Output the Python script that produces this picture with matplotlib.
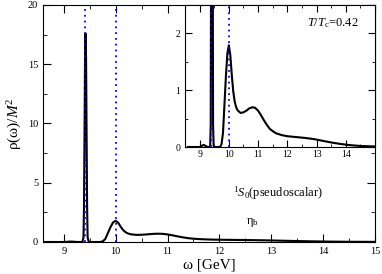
import numpy as np
import matplotlib.pyplot as plt
from matplotlib.ticker import MultipleLocator

plt.rcParams['font.family'] = ['Liberation Serif', 'DejaVu Serif']
plt.rcParams['mathtext.fontset'] = 'custom'
plt.rcParams['mathtext.rm'] = 'Liberation Serif'
plt.rcParams['mathtext.it'] = 'Liberation Serif:italic'

# spectral function (omega in GeV, rho/M^2)
omega = [8.6, 9.0, 9.05, 9.1, 9.15, 9.2, 9.25, 9.3, 9.36, 9.38, 9.39, 9.40, 9.41,
         9.42, 9.43, 9.44, 9.45, 9.46, 9.48, 9.5, 9.6, 9.7, 9.75, 9.8, 9.85, 9.9,
         9.95, 10.0, 10.05, 10.1, 10.15, 10.2, 10.25, 10.3, 10.4, 10.5, 10.6, 10.7,
         10.8, 10.9, 11.0, 11.1, 11.2, 11.3, 11.4, 11.5, 11.6, 11.8, 12.0, 12.3,
         12.6, 12.9, 13.2, 13.5, 13.8, 14.1, 14.5, 15.0]
rho = [0.0, 0.0, 0.01, 0.03, 0.035, 0.02, 0.005, 0.0, 0.0, 0.4, 3.0, 9.0, 15.5,
       17.6, 15.5, 9.0, 3.0, 0.4, 0.02, 0.0, 0.0, 0.0, 0.05, 0.25, 0.75, 1.25,
       1.65, 1.79, 1.62, 1.27, 0.98, 0.8, 0.7, 0.645, 0.6, 0.61, 0.64, 0.68,
       0.7, 0.69, 0.64, 0.56, 0.47, 0.39, 0.32, 0.28, 0.245, 0.21, 0.19, 0.175,
       0.16, 0.14, 0.11, 0.08, 0.055, 0.035, 0.018, 0.01]
# positions of the bound states (dotted lines)
masses = [9.40, 10.0]

fig = plt.figure(figsize=(3.82, 2.74), dpi=100)
ax = fig.add_axes([0.1126, 0.1168, 0.8691, 0.865])
ax.plot(omega, rho, color='black', lw=1.5)
for m in masses:
    ax.axvline(m, color='blue', ls=(0, (1, 2.2)), lw=1.3)
ax.set_xlim(8.6, 15)
ax.set_ylim(0, 20)
ax.xaxis.set_major_locator(MultipleLocator(1))
ax.xaxis.set_minor_locator(MultipleLocator(0.5))
ax.yaxis.set_major_locator(MultipleLocator(5))
ax.yaxis.set_minor_locator(MultipleLocator(2.5))
ax.tick_params(which='both', direction='in', top=True, right=True, labelsize=7.5)
ax.tick_params(which='major', length=6)
ax.tick_params(which='minor', length=3)
ax.set_xlabel(r'ω [GeV]', fontsize=11, labelpad=2)
ax.set_ylabel(r'ρ(ω)/$M^2$', fontsize=11, labelpad=3)

ax.text(0.572, 0.19, r'$^1S_0$(pseudoscalar)', transform=ax.transAxes, fontsize=9)
ax.text(0.612, 0.075, r'η$_\mathrm{b}$', transform=ax.transAxes, fontsize=9)

# inset
ins = fig.add_axes([0.4843, 0.4635, 0.4974, 0.5182])
ins.plot(omega, rho, color='black', lw=1.5)
for m in masses:
    ins.axvline(m, color='blue', ls=(0, (1, 2.2)), lw=1.3)
ins.set_xlim(8.5, 15)
ins.set_ylim(0, 2.5)
ins.xaxis.set_major_locator(MultipleLocator(1))
ins.xaxis.set_minor_locator(MultipleLocator(0.5))
ins.yaxis.set_major_locator(MultipleLocator(1))
ins.yaxis.set_minor_locator(MultipleLocator(0.5))
ins.set_xticks([9, 10, 11, 12, 13, 14])
ins.tick_params(which='both', direction='in', top=True, right=True, labelsize=7)
ins.tick_params(which='major', length=5)
ins.tick_params(which='minor', length=2.5)
ins.tick_params(axis='x', pad=2)
ins.text(0.64, 0.85, r'$T/T_\mathrm{c}$=0.42', transform=ins.transAxes, fontsize=9)

fig.savefig('out.png', dpi=100)
